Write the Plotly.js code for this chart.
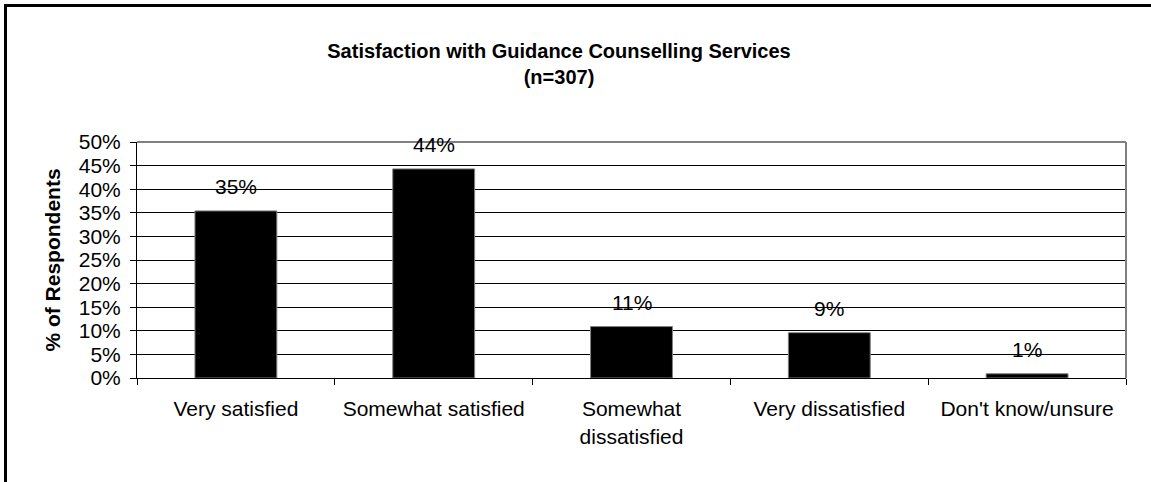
<!DOCTYPE html>
<html>
<head>
<meta charset="utf-8">
<script src="https://cdn.plot.ly/plotly-3.0.1.min.js"></script>
<style>
  html, body { margin: 0; padding: 0; overflow: hidden; background: #fff; }
  #chart { width: 1151px; height: 482px; }
  #frame { position: absolute; left: 4px; top: 4px; width: 1200px; height: 600px;
           border-left: 3px solid #000; border-top: 3px solid #000; pointer-events: none; }
</style>
</head>
<body>
<div id="chart"></div>
<div id="frame"></div>
<script>
const categories = ["Very satisfied", "Somewhat satisfied", "Somewhat<br>dissatisfied", "Very dissatisfied", "Don't know/unsure"];
const values = [35.4, 44.3, 10.9, 9.6, 0.9];
const valueLabels = ["35%", "44%", "11%", "9%", "1%"];
const yTickVals = [0, 5, 10, 15, 20, 25, 30, 35, 40, 45, 50];
const yTickText = ["0%", "5%", "10%", "15%", "20%", "25%", "30%", "35%", "40%", "45%", "50%"];

const FONT = "Liberation Sans, Arial, sans-serif";

const trace = {
  type: "bar",
  x: categories,
  y: values,
  width: 0.414,
  marker: { color: "#000000", line: { color: "#808080", width: 1 } },
  hoverinfo: "none"
};

const annotations = categories.map((c, i) => ({
  x: c, y: values[i], xref: "x", yref: "y",
  text: valueLabels[i], showarrow: false,
  yanchor: "bottom", yshift: 11,
  font: { family: FONT, size: 21, color: "#000" }
}));

const layout = {
  width: 1151, height: 482,
  margin: { l: 137, r: 25, t: 141.5, b: 104 },
  paper_bgcolor: "#ffffff", plot_bgcolor: "#ffffff",
  font: { family: FONT, size: 21, color: "#000" },
  showlegend: false,
  title: {
    text: "<b>Satisfaction with Guidance Counselling Services<br>(n=307)</b>",
    xref: "container", yref: "container",
    x: 559 / 1151, xanchor: "center",
    y: 1 - 58 / 482, yanchor: "top",
    font: { family: FONT, size: 20, color: "#000" }
  },
  xaxis: {
    type: "category",
    showgrid: false,
    showline: true, linecolor: "#000", linewidth: 1,
    ticks: "outside", tickson: "boundaries", ticklen: 6, tickcolor: "#000", tickwidth: 1,
    ticklabelstandoff: 12,
    tickfont: { family: FONT, size: 21, color: "#000" },
    fixedrange: true
  },
  yaxis: {
    range: [0, 50],
    tickvals: yTickVals, ticktext: yTickText,
    showgrid: true, gridcolor: "#000", gridwidth: 1,
    zeroline: false,
    showline: true, linecolor: "#000", linewidth: 1,
    ticks: "outside", ticklen: 6, tickcolor: "#000", tickwidth: 1,
    ticklabelstandoff: 5,
    tickfont: { family: FONT, size: 21, color: "#000" },
    title: { text: "<b>% of Respondents</b>", font: { family: FONT, size: 21, color: "#000" }, standoff: 12 },
    fixedrange: true
  },
  shapes: [
    { type: "line", xref: "paper", yref: "paper", x0: 0, x1: 1, y0: 1, y1: 1, line: { color: "#808080", width: 2 } },
    { type: "line", xref: "paper", yref: "paper", x0: 1, x1: 1, y0: 0, y1: 1, line: { color: "#808080", width: 2 } }
  ],
  annotations: annotations,
  bargap: 0.586
};

Plotly.newPlot("chart", [trace], layout, { staticPlot: true, displayModeBar: false });
</script>
</body>
</html>
